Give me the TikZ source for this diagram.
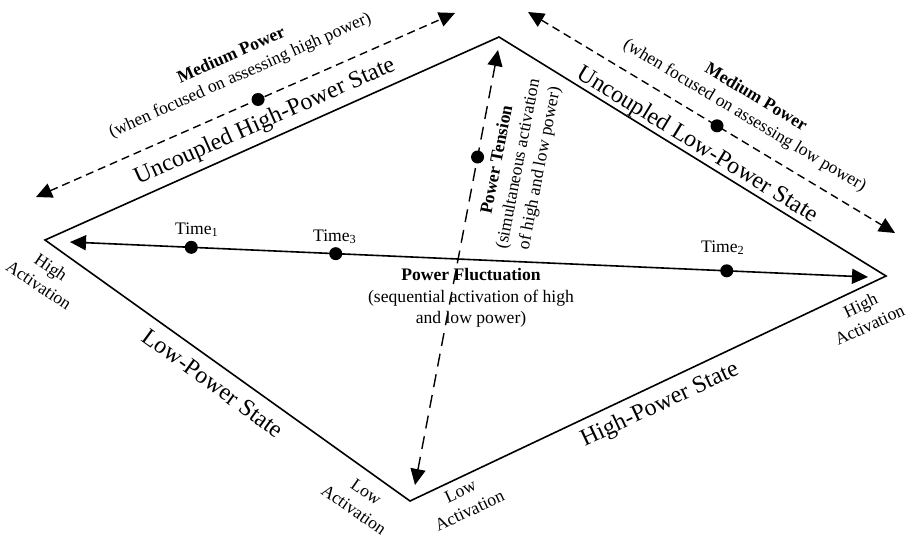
\documentclass[tikz,border=0pt]{standalone}
\usepackage{fontspec}
\setmainfont{Liberation Serif}
\usetikzlibrary{arrows.meta}

\tikzset{
  diamondline/.style={line width=0.8pt},
  dotnode/.style={circle,fill=black,inner sep=0pt,minimum size=6.5pt},
  medarrow/.style={<->,line width=0.7pt,dash pattern=on 4pt off 2.5pt},
  tensarrow/.style={<->,line width=0.7pt,dash pattern=on 6.5pt off 4pt},
  fluctarrow/.style={<->,line width=0.8pt},
  statetext/.style={font=\fontsize{12}{14}\selectfont,inner sep=0pt},
  smalltext/.style={font=\fontsize{8.8}{10.8}\selectfont,align=center,inner sep=0pt},
  >={Triangle[length=8pt,width=7.5pt]}
}

\begin{document}
\begin{tikzpicture}[x=0.5pt,y=-0.5pt]
  \useasboundingbox (0,0) rectangle (908,541);
  \coordinate (L) at (45,240);
  \coordinate (T) at (499,37);
  \coordinate (R) at (886,276);
  \coordinate (B) at (410,501);
  \draw[diamondline] (L) -- (T) -- (R) -- (B) -- cycle;

  \coordinate (fl) at (70,242);
  \coordinate (fr) at (868,277);
  \draw[fluctarrow] (fl) -- node[dotnode,pos=0.152] (t1) {}
    node[dotnode,pos=0.333] (t3) {}
    node[dotnode,pos=0.823] (t2) {} (fr);

  \coordinate (tb) at (415,485);
  \coordinate (tt) at (498,50);
  \draw[tensarrow] (tb) -- node[dotnode,pos=0.754] (tm) {} (tt);

  \coordinate (hl) at (36,197);
  \coordinate (hr) at (455,13);
  \draw[medarrow] (hl) -- node[dotnode,pos=0.53] (hm) {} (hr);
  \coordinate (ll) at (528,12);
  \coordinate (lr) at (895,233);
  \draw[medarrow] (ll) -- node[dotnode,pos=0.515] (lm) {} (lr);

  \node[statetext,rotate=24] (uhs) at (265,122) {Uncoupled High-Power State};
  \node[statetext,rotate=-31.5] (uls) at (697,145) {Uncoupled Low-Power State};
  \node[statetext,rotate=-36] (lps) at (213,383) {Low-Power State};
  \node[statetext,rotate=25] (hps) at (660,405) {High-Power State};

  \node[smalltext,rotate=24] (mph) at (236,66)
    {\textbf{Medium Power}\\(when focused on assessing high power)};
  \node[smalltext,rotate=-31] (mpl) at (750,107)
    {\textbf{Medium Power}\\(when focused on assessing low power)};
  \node[smalltext,rotate=79] (tens) at (519,164)
    {\textbf{Power Tension}\\(simultaneous activation\\of high and low power)};
  \node[smalltext] (fluct) at (471,298)
    {\textbf{Power Fluctuation}\\(sequential activation of high\\and low power)};

  \node[smalltext] (t1lab) at (197,230) {Time\textsubscript{1}};
  \node[smalltext] (t3lab) at (335,237) {Time\textsubscript{3}};
  \node[smalltext] (t2lab) at (723,248) {Time\textsubscript{2}};

  \node[smalltext,rotate=-34] (hal) at (45,276) {High\\Activation};
  \node[smalltext,rotate=-35] (lal) at (360,501) {Low\\Activation};
  \node[smalltext,rotate=25] (lar) at (465,501) {Low\\Activation};
  \node[smalltext,rotate=25] (har) at (865,315) {High\\Activation};
\end{tikzpicture}
\end{document}
